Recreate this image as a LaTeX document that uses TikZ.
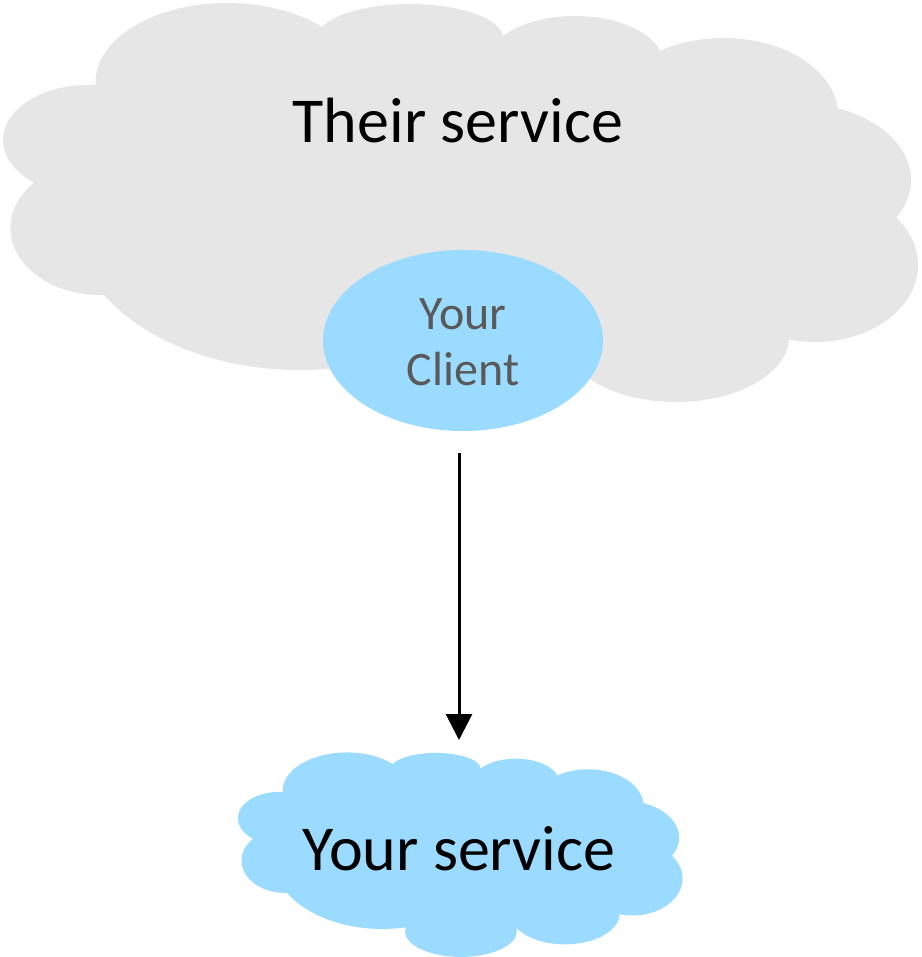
\documentclass[tikz,border=0pt]{standalone}
\usepackage{fontspec}
\setmainfont{Carlito}
\usetikzlibrary{arrows.meta,shapes.geometric}

\definecolor{cloudgray}{RGB}{230,230,230}
\definecolor{cloudblue}{RGB}{155,219,255}
\definecolor{clienttext}{RGB}{89,89,89}

\tikzset{
  % a cloud: eleven elliptic puffs round a filled core
  pics/cloudshape/.style={code={
    \fill[#1]
      (227.3,82) ellipse[x radius=131.8, y radius=79]
      (410,38)   ellipse[x radius=93,    y radius=34]
      (575,63)   ellipse[x radius=88,    y radius=47]
      (723.6,115) ellipse[x radius=114.4, y radius=77]
      (796,180)  ellipse[x radius=115,   y radius=77]
      (815,265)  ellipse[x radius=103,   y radius=77]
      (676,337)  ellipse[x radius=113,   y radius=65]
      (462,375)  ellipse[x radius=115,   y radius=53]
      (300,220)  ellipse[x radius=226,   y radius=150]
      (100,228)  ellipse[x radius=89.5,  y radius=67]
      (88,140)   ellipse[x radius=85,    y radius=55];
    \fill[#1] (100,90) -- (322,32) -- (503,40) -- (660,56) -- (835,110) -- (893,213)
      -- (780,340) -- (575,370) -- (340,364) -- (107,290) -- (46,187) -- cycle;
  }},
  flow/.style={line width=3pt, -{Triangle[width=26pt,length=26pt]}},
  bigtext/.style={font=\fontsize{64}{77}\selectfont, text=black, inner sep=0pt, anchor=base},
  clientbox/.style={ellipse, fill=cloudblue, minimum width=280pt, minimum height=181pt,
    inner sep=0pt, align=center, text=clienttext, font=\fontsize{48}{56}\selectfont},
}

\begin{document}
\begin{tikzpicture}[x=1pt, y=-1pt]
  \useasboundingbox (0,0) rectangle (921,957);

  % the outer service
  \pic at (0,0) {cloudshape=cloudgray};
  \node[bigtext] (their) at (458,143) {Their service};

  % the client living inside it (the strut lowers the two lines a little)
  \node[clientbox] (client) at (463,340.5) {\rule{0pt}{35pt}Your\\Client};

  % the own service: the same cloud, scaled down
  \pic[shift={(236.4,751)}, xscale=0.486, yscale=0.481] at (0,0) {cloudshape=cloudblue};
  \node[bigtext] (service) at (459,870) {Your service};
  \coordinate (svctop) at (459,752);

  \draw[flow, shorten >=12pt] ([yshift=-22pt]client.south -| svctop) -- (svctop);
\end{tikzpicture}
\end{document}
